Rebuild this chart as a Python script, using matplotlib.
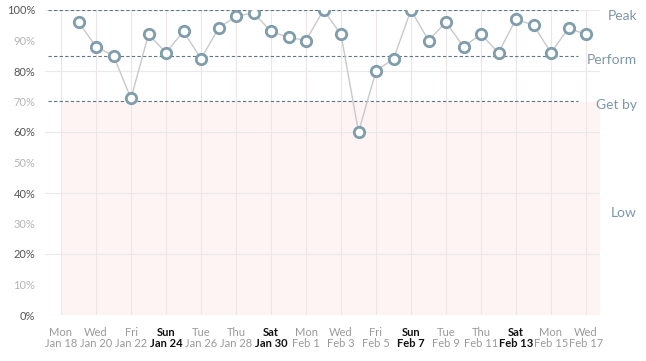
import matplotlib
matplotlib.use("Agg")
import matplotlib.pyplot as plt
import numpy as np

# daily scores, Jan 19 .. Feb 17
days = list(range(1, 31))  # day offset from Jan 18
scores = [96, 88, 85, 71, 92, 86, 93, 84, 94, 98,
          99, 93, 91, 90, 100, 92, 60, 80, 84, 100,
          90, 96, 88, 92, 86, 97, 95, 86, 94, 92]

tick_days = list(range(0, 31, 2))
tick_weekdays = ["Mon", "Wed", "Fri", "Sun", "Tue", "Thu", "Sat", "Mon",
                 "Wed", "Fri", "Sun", "Tue", "Thu", "Sat", "Mon", "Wed"]
tick_dates = ["Jan 18", "Jan 20", "Jan 22", "Jan 24", "Jan 26", "Jan 28", "Jan 30", "Feb 1",
              "Feb 3", "Feb 5", "Feb 7", "Feb 9", "Feb 11", "Feb 13", "Feb 15", "Feb 17"]

zones = ["Peak", "Perform", "Get by", "Low"]
zone_levels = [100, 85, 70]
zone_label_y = [98, 83.5, 69, 33.5]

plt.rcParams["font.family"] = ["Lato", "DejaVu Sans"]

fig = plt.figure(figsize=(6.46, 3.61), dpi=100)
# axes: x from 45 to 600 px, y from 10 (100%) to 315 (0%)
ax = fig.add_axes([45 / 646, (361 - 315) / 361, 555 / 646, 305 / 361])

px_per_day = 17.5
x0 = -(61 - 45) / px_per_day
x1 = x0 + 555 / px_per_day
ax.set_xlim(x0, x1)
ax.set_ylim(0, 100)

# low zone shading
ax.fill_between([0, x1], 0, 70, color="#fef4f4", zorder=0, lw=0)

for d in tick_days:
    ax.axvline(d, color="#ece6e6", lw=0.8, zorder=1)
for v in range(0, 101, 20):
    ax.axhline(v, color="#eaeaea", lw=0.8, zorder=1)

xd_end = x0 + (578 - 45) / px_per_day
xd_start = x0 + (48 - 45) / px_per_day
for lvl in zone_levels:
    ax.hlines(lvl, xd_start, xd_end, colors="#5f7686", linestyles=(0, (3, 2)), lw=0.8, zorder=2)

ax.plot(days, scores, color="#c9c9c9", lw=1, zorder=3)
ax.plot(days, scores, ls="none", marker="o", ms=7.5, mfc="white", mec="#7f9dab", mew=2, zorder=4)

x_lab = x0 + (637 - 45) / px_per_day
for name, y in zip(zones, zone_label_y):
    ax.text(x_lab, y, name, color="#7e97a6", fontsize=10, ha="right", va="center",
            clip_on=False)

ax.set_yticks(range(0, 101, 10))
ax.set_yticklabels([f"{v}%" for v in range(0, 101, 10)], fontsize=8)
for v, lab in zip(range(0, 101, 10), ax.get_yticklabels()):
    lab.set_color("#555555" if v % 20 == 0 else "#b5b5b5")
ax.tick_params(axis="y", length=0, pad=7)

ax.set_xticks(tick_days)
ax.set_xticklabels([])
ax.tick_params(axis="x", length=0)
for d, wd, dt in zip(tick_days, tick_weekdays, tick_dates):
    weekend = wd in ("Sat", "Sun")
    col = "#111111" if weekend else "#9a9a9a"
    wt = "bold" if weekend else "normal"
    ax.text(d, -5.6, wd, color=col, fontweight=wt, fontsize=8, ha="center", va="center",
            clip_on=False)
    ax.text(d, -9.4, dt, color=col, fontweight=wt, fontsize=8, ha="center", va="center",
            clip_on=False)

for s in ax.spines.values():
    s.set_visible(False)

fig.savefig("out.png", dpi=100)
